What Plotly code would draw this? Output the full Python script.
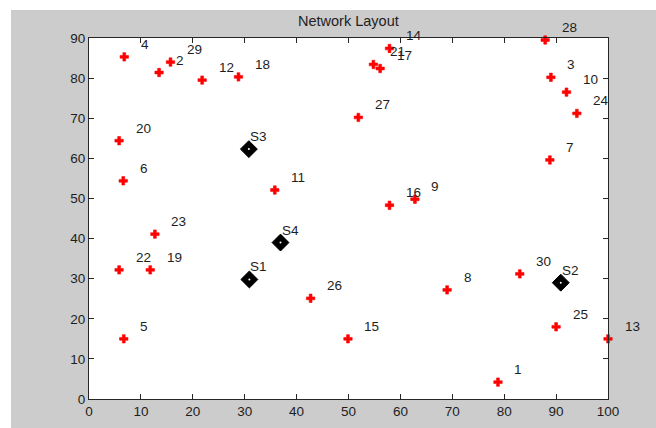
import plotly.graph_objects as go

# ---- data ----
node_ids = [str(i) for i in range(1, 31)]
node_x = [78.8, 13.5, 89.0, 6.8, 6.7, 6.6, 88.8, 69.0, 62.8, 92.0,
          35.8, 21.8, 100.0, 57.9, 49.9, 57.9, 56.1, 28.8, 11.8, 5.8,
          54.8, 5.8, 12.7, 94.0, 90.0, 42.7, 51.9, 87.9, 15.7, 83.0]
node_y = [4.2, 81.4, 80.2, 85.3, 15.0, 54.4, 59.6, 27.2, 49.8, 76.5,
          52.1, 79.5, 15.0, 87.4, 15.0, 48.3, 82.4, 80.3, 32.2, 64.4,
          83.4, 32.2, 41.1, 71.2, 18.0, 25.1, 70.2, 89.5, 84.0, 31.2]

sink_names = ["S1", "S2", "S3", "S4"]
sink_x = [30.9, 90.9, 30.8, 36.9]
sink_y = [29.8, 29.0, 62.3, 39.0]

x_ticks = list(range(0, 101, 10))
y_ticks = list(range(0, 91, 10))

TXT = "#1e1e1e"
FONT = "Liberation Sans, Arial, sans-serif"

fig = go.Figure()

fig.add_trace(go.Scatter(
    x=node_x, y=node_y, mode="markers",
    marker=dict(symbol="cross", size=7, color="red", line=dict(width=0.6, color="red")),
    cliponaxis=False, showlegend=False, hoverinfo="skip"))

fig.add_trace(go.Scatter(
    x=sink_x, y=sink_y, mode="markers",
    marker=dict(symbol="diamond", size=13, color="black", line=dict(width=1, color="black")),
    cliponaxis=False, showlegend=False, hoverinfo="skip"))

fig.add_trace(go.Scatter(
    x=sink_x, y=sink_y, mode="markers",
    marker=dict(symbol="circle", size=2, color="white", line=dict(width=0)),
    cliponaxis=False, showlegend=False, hoverinfo="skip"))

annotations = []
for nid, nx, ny in zip(node_ids, node_x, node_y):
    annotations.append(dict(x=nx, y=ny, xref="x", yref="y", text=nid,
                            showarrow=False, xanchor="left", yanchor="middle",
                            xshift=14.5, yshift=12.5,
                            font=dict(size=13.5, color=TXT, family=FONT)))
for sn, sx, sy in zip(sink_names, sink_x, sink_y):
    annotations.append(dict(x=sx, y=sy, xref="x", yref="y", text=sn,
                            showarrow=False, xanchor="left", yanchor="middle",
                            xshift=-1, yshift=12.5,
                            font=dict(size=13.5, color=TXT, family=FONT)))

annotations.append(dict(x=0.5, y=1.0, xref="paper", yref="paper", text="Network Layout",
                        showarrow=False, xanchor="center", yanchor="bottom", yshift=7,
                        font=dict(size=14.5, color=TXT, family=FONT)))

axis_common = dict(showgrid=False, zeroline=False, showline=True, mirror="ticks",
                   linecolor="#262626", linewidth=1, ticks="inside", ticklen=5,
                   tickcolor="#262626", tickwidth=1, automargin=False,
                   tickfont=dict(size=13.5, color=TXT, family=FONT))

fig.update_layout(
    width=656, height=428,
    margin=dict(l=89, r=48, t=38, b=29, autoexpand=False),
    paper_bgcolor="#cccccc", plot_bgcolor="white",
    xaxis=dict(range=[0, 100], tickvals=x_ticks, ticktext=[str(v) for v in x_ticks], **axis_common),
    yaxis=dict(range=[0, 90], tickvals=y_ticks, ticktext=[str(v) for v in y_ticks], **axis_common),
    annotations=annotations,
    shapes=[
        dict(type="rect", xref="paper", yref="paper", x0=-0.2, x1=(11 - 89) / 519,
             y0=-0.2, y1=1.2, fillcolor="white", line=dict(width=0), layer="below"),
        dict(type="rect", xref="paper", yref="paper", x0=-0.2, x1=1.2,
             y0=1 + 28 / 361, y1=1.2, fillcolor="white", line=dict(width=0), layer="below"),
    ],
)

fig.write_html("out.html")
